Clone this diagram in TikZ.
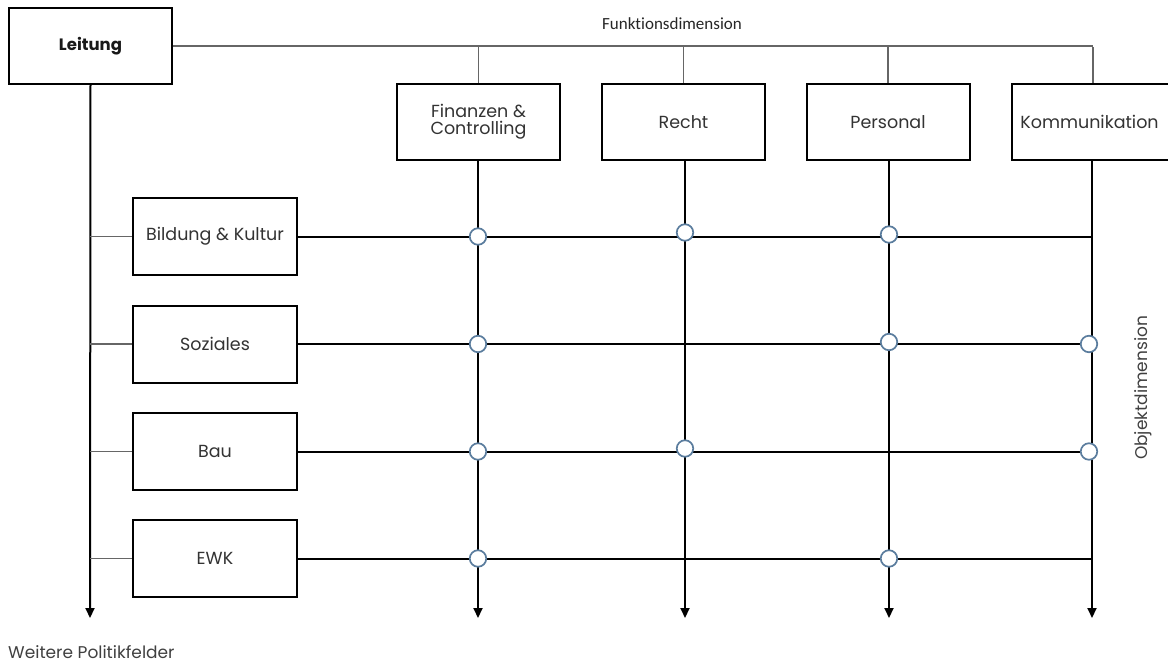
\documentclass[tikz,border=0pt]{standalone}
\usepackage{fontspec}
\setmainfont{Poppins}
\newfontfamily\calib[Ligatures=NoCommon]{Carlito}
\usetikzlibrary{arrows.meta}
\definecolor{circblue}{HTML}{5B7D9E}
\tikzset{
  box/.style={draw=black, line width=2pt, fill=white, minimum width=163pt, minimum height=76pt, inner sep=0pt, align=center, font=\fontsize{17.5}{20}\selectfont, text=black!80},
  thin/.style={draw=black!60, line width=1.1pt},
  thick/.style={draw=black, line width=2pt},
  arr/.style={thick, -{Triangle[width=9pt,length=10pt]}},
  knot/.style={circle, draw=circblue, line width=1.7pt, fill=white, minimum size=16.5pt, inner sep=0pt},
}
\begin{document}
\begin{tikzpicture}[x=1pt,y=-1pt]
\useasboundingbox (0,0) rectangle (1168,664);
\clip (0,0) rectangle (1168,664);
% top boxes
\node[box, font=\fontsize{16.5}{19}\selectfont\bfseries, text=black!90] (lei) at (90.5,46) {Leitung};
\node[box] (fin) at (478.5,122) {Finanzen \&\\[-3pt]Controlling};
\node[box] (rec) at (683.5,122) {Recht};
\node[box] (per) at (888,122) {Personal};
\node[box] (kom) at (1093.5,122) {\hspace*{-8pt}Kommunikation};
% left boxes
\node[box, minimum width=164pt, minimum height=77pt] (b1) at (215,236.5) {Bildung \& Kultur};
\node[box, minimum width=164pt, minimum height=77pt] (b2) at (215,344) {Soziales};
\node[box, minimum width=164pt, minimum height=77pt] (b3) at (215,451.5) {Bau};
\node[box, minimum width=164pt, minimum height=77pt] (b4) at (215,558.5) {EWK};
% end coordinates
\coordinate (lEnd) at (90,618);
\coordinate (fEnd) at (478,618);
\coordinate (rEnd) at (685,618);
\coordinate (pEnd) at (889,618);
\coordinate (kEnd) at (1092,618);
\coordinate (topR) at (1093,47);
% labels
\node[font=\calib\fontsize{17}{19}\selectfont, text=black!85] (fd) at (672,24) {Funktionsdimension};
\node[font=\fontsize{17}{19}\selectfont, text=black!75, rotate=90] (od) at (1143,388) {Objektdimension};
\node[font=\fontsize{17}{19}\selectfont, text=black!75, anchor=west, inner sep=0pt] (wp) at (8,652) {Weitere Politikfelder};
% top line and ticks
\draw[thin] (lei.east) -- (lei.east -| topR);
\draw[thin] (lei.east -| fin.north) -- (fin.north);
\draw[thin] (lei.east -| rec.north) -- (rec.north);
\draw[thin] (lei.east -| per.north) -- (per.north);
\draw[thin] (topR) -- (topR |- kom.north);
% vertical arrows
\draw[arr] (lei.south) -- (lEnd);
\draw[arr] (fin.south -| fEnd) -- (fEnd);
\draw[arr] (rec.south -| rEnd) -- (rEnd);
\draw[arr] (per.south -| pEnd) -- (pEnd);
\draw[arr] (kom.south -| kEnd) -- (kEnd);
% left ticks and row lines
\foreach \b in {b1,b2,b3,b4}{
  \draw[thin] (\b.west -| lEnd) -- (\b.west);
  \draw[thick] (\b.east) -- (\b.east -| kEnd);
}
% knots
\node[knot] (k11) at (b1.east -| fEnd) {};
\node[knot] (k12) at ([yshift=4pt]b1.east -| rEnd) {};
\node[knot] (k13) at ([yshift=2pt]b1.east -| pEnd) {};
\node[knot] (k21) at (b2.east -| fEnd) {};
\node[knot] (k23) at ([yshift=2pt]b2.east -| pEnd) {};
\node[knot] (k24) at ([xshift=-3pt]b2.east -| kEnd) {};
\node[knot] (k31) at (b3.east -| fEnd) {};
\node[knot] (k32) at ([yshift=3pt]b3.east -| rEnd) {};
\node[knot] (k34) at ([xshift=-3pt]b3.east -| kEnd) {};
\node[knot] (k41) at (b4.east -| fEnd) {};
\node[knot] (k43) at (b4.east -| pEnd) {};
\end{tikzpicture}
\end{document}
